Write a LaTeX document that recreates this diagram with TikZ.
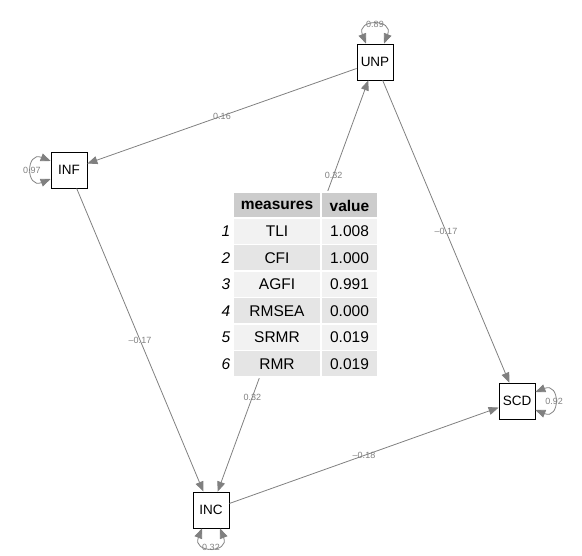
\documentclass[tikz,border=0pt]{standalone}
\usepackage{fontspec}
\setmainfont{Liberation Sans}
\usetikzlibrary{arrows.meta}
\definecolor{edgegray}{RGB}{128,128,128}
\definecolor{hdr}{gray}{0.8}
\definecolor{rowa}{gray}{0.95}
\definecolor{rowb}{gray}{0.9}

\begin{document}
\begin{tikzpicture}[x=1pt,y=-1pt,
  >={Triangle[length=10pt,width=8pt]},
  var/.style={draw, fill=white, minimum size=36pt, inner sep=0pt, line width=0.8pt,
    font=\fontsize{13.5}{15}\selectfont},
  reg/.style={draw=edgegray, line width=0.8pt},
  lbl/.style={text=edgegray, inner sep=0pt, font=\fontsize{9}{10}\selectfont},
  cell/.style={fill=#1, draw=white, line width=1.5pt, inner sep=0pt, minimum height=26.5pt,
    font=\fontsize{15.5}{17}\selectfont}]
  \useasboundingbox (0,0) rectangle (582,556);
  % variables
  \node[var] (unp) at (375,62) {UNP};
  \node[var] (inf) at (69,170) {INF};
  \node[var] (inc) at (211,510) {INC};
  \node[var] (scd) at (517,401) {SCD};
  % paths
  \draw[reg,->] (unp) -- node[lbl]{0.16} (inf);
  \draw[reg,->] (inf) -- node[lbl]{--0.17} (inc);
  \draw[reg,->] (unp) -- node[lbl]{--0.17} (scd);
  \draw[reg,->] (inc) -- node[lbl]{--0.18} (scd);
  \draw[reg,<->] (inc) -- node[lbl, pos=.23]{0.32} node[lbl, pos=.77]{0.32} (unp);
  % variances
  \draw[reg,<->] ([xshift=-9pt]unp.north) .. controls +(-10,-25) and +(10,-25) .. ([xshift=9pt]unp.north)
    node[lbl, pos=.5]{0.89};
  \draw[reg,<->] ([yshift=9pt]inf.west) .. controls +(-25,-10) and +(-25,10) .. ([yshift=-9pt]inf.west)
    node[lbl, pos=.5]{0.97};
  \draw[reg,<->] ([xshift=-9pt]inc.south) .. controls +(-10,25) and +(10,25) .. ([xshift=9pt]inc.south)
    node[lbl, pos=.5]{0.32};
  \draw[reg,<->] ([yshift=9pt]scd.east) .. controls +(25,-10) and +(25,10) .. ([yshift=-9pt]scd.east)
    node[lbl, pos=.5]{0.92};
  % fit table
  \node[cell=hdr, minimum width=88pt, font=\fontsize{15.5}{17}\selectfont\bfseries] (mh) at (277,205.5) {measures};
  \node[cell=hdr, minimum width=57pt, font=\fontsize{15.5}{17}\selectfont\bfseries] (vh) at (349.5,205.5) {value};
  \foreach \i/\m/\v/\c in {1/TLI/1.008/rowa, 2/CFI/1.000/rowb, 3/AGFI/0.991/rowa,
                           4/RMSEA/0.000/rowb, 5/SRMR/0.019/rowa, 6/RMR/0.019/rowb} {
    \node[font=\fontsize{15.5}{17}\selectfont\itshape] (n\i) at (226,204.75+26.5*\i) {\i};
    \node[cell=\c, minimum width=88pt] (m\i) at (277,204.75+26.5*\i) {\m};
    \node[cell=\c, minimum width=57pt] (v\i) at (349.5,204.75+26.5*\i) {\v};
  }
\end{tikzpicture}
\end{document}
